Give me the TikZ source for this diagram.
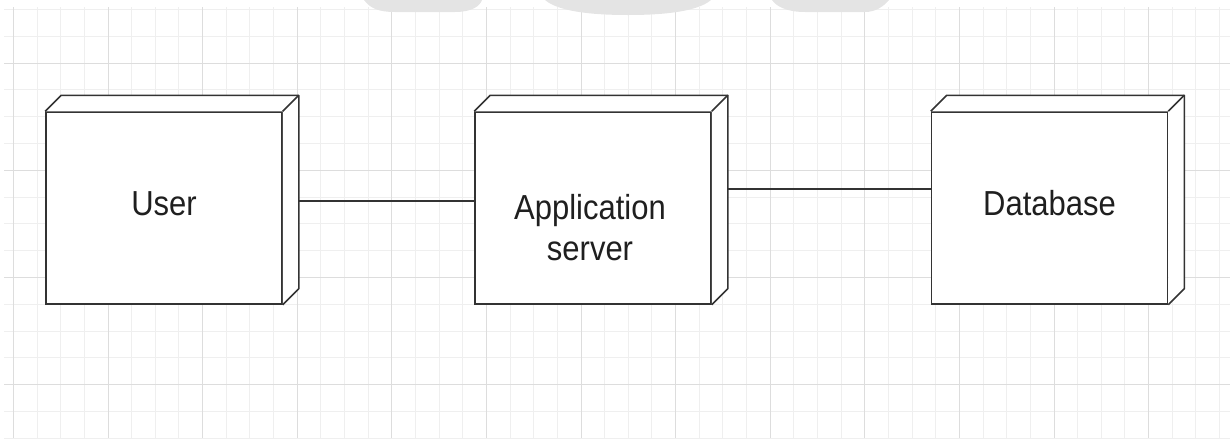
\documentclass[tikz,border=0pt]{standalone}
\usepackage{fontspec}
\setmainfont{Liberation Sans}
\definecolor{gridminor}{HTML}{EFEFEF}
\definecolor{gridmajor}{HTML}{DDDDDD}
\definecolor{boxline}{HTML}{333333}
\definecolor{markgray}{HTML}{E4E4E4}
\begin{document}
\begin{tikzpicture}[x=1pt,y=-1pt,
  deploybox/.style={draw=boxline,line width=1.5pt,fill=white,rectangle,minimum width=236pt,minimum height=192pt,inner sep=0pt},
  boxface/.style={draw=boxline,line width=1.5pt,line join=round},
  boxtext/.style={text=black!88,font=\fontsize{31}{37}\selectfont,align=center,yscale=1.12,inner sep=0pt},
  link/.style={draw=boxline,line width=1.5pt}]
\useasboundingbox (0,0) rectangle (1230,440);
% grid
\foreach \k in {0,...,51} \draw[gridminor,line width=1pt] (13.4+23.65*\k,7) -- (13.4+23.65*\k,438);
\foreach \k in {0,...,16} \draw[gridminor,line width=1pt] (4,9.4+26.8*\k) -- (1230,9.4+26.8*\k);
\foreach \k in {0,...,12} \draw[gridmajor,line width=1pt] (13.4+94.6*\k,7) -- (13.4+94.6*\k,438);
\foreach \k in {0,...,3} \draw[gridmajor,line width=1pt] (4,63+107.3*\k) -- (1230,63+107.3*\k);
% faded mark at the top
\fill[markgray] (364,0) .. controls (370,8) and (378,12) .. (395,12) -- (455,12) .. controls (472,12) and (480,6) .. (482,0) -- cycle;
\fill[markgray] (545,0) .. controls (560,13) and (600,15) .. (628,15) .. controls (656,15) and (696,13) .. (711,0) -- cycle;
\fill[markgray] (772,0) .. controls (776,6) and (786,12) .. (805,12) -- (865,12) .. controls (876,12) and (884,6) .. (889,0) -- cycle;

\node[deploybox] (user) at (164,208) {};
\node[deploybox] (app) at (593,208) {};
\node[deploybox] (db) at (1049.5,208) {};
\foreach \n in {user,app,db} {
  \fill[white] (\n.north west) -- ++(16,-16) -- ([shift={(16,-16)}]\n.north east) -- ([shift={(16,-16)}]\n.south east) -- (\n.south east) -- (\n.north east) -- cycle;
  \path[boxface] (\n.north west) -- ++(16,-16) -- ([shift={(16,-16)}]\n.north east) -- ([shift={(16,-16)}]\n.south east) -- (\n.south east);
  \path[boxface] (\n.north east) -- ++(16,-16);
}

\node[boxtext] (usertext) at ([yshift=4.5pt]user.center) {User};
\node[boxtext] (apptext) at ([xshift=-3pt,yshift=-19.5pt]app.center) {Application\\server};
\node[boxtext] (dbtext) at ([yshift=4.5pt]db.center) {Database};

\path[link] ([xshift=16pt,yshift=7pt]user.east) -- ([yshift=7pt]app.west);
\path[link] ([xshift=16pt,yshift=19pt]app.east) -- ([yshift=19pt]db.west);
\end{tikzpicture}
\end{document}
